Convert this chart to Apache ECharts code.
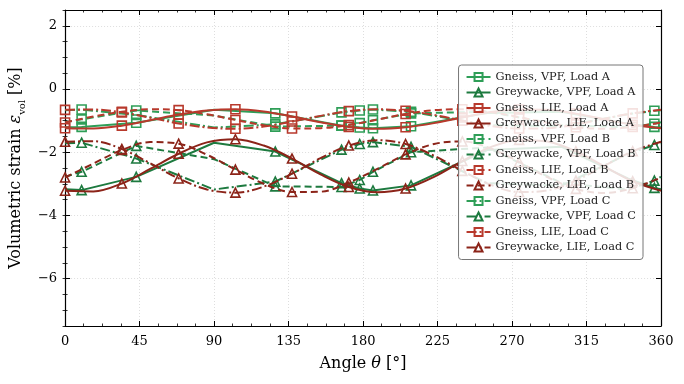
<!DOCTYPE html>
<html><head><meta charset="utf-8">
<script src="https://cdn.jsdelivr.net/npm/echarts@6/dist/echarts.min.js"></script>
<style>html,body{margin:0;padding:0;background:#fff}#c{width:684px;height:384px}</style>
</head><body><div id="c"></div>
<script>
// ---- data ----
const lieAngles = [0, 17.1, 34.3, 51.4, 68.6, 85.7, 102.9, 120, 137.1, 154.3, 171.4, 188.6, 205.7, 222.9, 240, 257.1, 274.3, 291.4, 308.6, 325.7, 342.9, 360];
const gneissLIE_A = [-1.24,-1.25,-1.16,-0.99,-0.81,-0.68,-0.64,-0.71,-0.87,-1.05,-1.20,-1.26,-1.21,-1.08,-0.90,-0.73,-0.65,-0.66,-0.78,-0.96,-1.13,-1.24];
const gneissLIE_B = [-1.06,-0.87,-0.72,-0.64,-0.67,-0.80,-0.98,-1.15,-1.25,-1.24,-1.14,-0.97,-0.79,-0.67,-0.64,-0.73,-0.89,-1.07,-1.21,-1.26,-1.20,-1.06];
const gneissLIE_C = [-0.66,-0.65,-0.74,-0.91,-1.09,-1.22,-1.26,-1.19,-1.03,-0.85,-0.70,-0.64,-0.69,-0.82,-1.00,-1.17,-1.25,-1.24,-1.12,-0.94,-0.77,-0.66];
const greyLIE_A = [-3.22,-3.24,-2.99,-2.53,-2.05,-1.69,-1.59,-1.79,-2.20,-2.70,-3.10,-3.27,-3.15,-2.78,-2.28,-1.84,-1.61,-1.66,-1.97,-2.45,-2.92,-3.22];
const greyLIE_B = [-2.80,-2.36,-1.93,-1.68,-1.73,-2.08,-2.55,-3.00,-3.26,-3.25,-2.96,-2.53,-2.07,-1.74,-1.66,-1.88,-2.31,-2.79,-3.16,-3.29,-3.14,-2.80];
const greyLIE_C = [-1.67,-1.65,-1.90,-2.35,-2.83,-3.18,-3.28,-3.09,-2.68,-2.19,-1.79,-1.62,-1.74,-2.11,-2.59,-3.03,-3.26,-3.21,-2.90,-2.43,-1.97,-1.67];

const vpfAngles = [0, 10, 43, 90, 127, 167, 178, 186, 209, 255, 300, 340, 356, 360];
const vpfMarkedAngles = [10, 43, 127, 167, 178, 186, 209, 356];
const gneissVPF_A = [-1.21,-1.20,-1.07,-0.66,-0.77,-1.16,-1.22,-1.24,-1.18,-0.76,-0.72,-1.10,-1.20,-1.21];
const gneissVPF_B = [-1.05,-0.96,-0.68,-0.84,-1.19,-1.16,-1.08,-0.99,-0.77,-0.72,-1.14,-1.21,-1.10,-1.05];
const gneissVPF_C = [-0.67,-0.65,-0.82,-1.22,-1.12,-0.74,-0.68,-0.65,-0.72,-1.14,-1.18,-0.80,-0.69,-0.67];
const greyVPF_A = [-3.17,-3.20,-2.78,-1.70,-1.98,-2.98,-3.15,-3.21,-3.05,-1.93,-1.83,-2.83,-3.13,-3.17];
const greyVPF_B = [-2.78,-2.62,-1.80,-2.22,-3.08,-3.10,-2.88,-2.62,-2.00,-1.85,-2.98,-3.18,-2.90,-2.78];
const greyVPF_C = [-1.72,-1.70,-2.20,-3.18,-2.93,-1.92,-1.74,-1.68,-1.83,-2.98,-3.06,-2.06,-1.77,-1.72];

const xTicks = [0, 45, 90, 135, 180, 225, 270, 315, 360];
const yTicks = [-6, -4, -2, 0, 2];

// ---- styles ----
const FONT = 'DejaVu Serif';
const C_GN_VPF = '#2e9e57', C_GW_VPF = '#1d7a3f', C_GN_LIE = '#b8392c', C_GW_LIE = '#8c2419';
const DASH = {A: 'solid', B: [7, 4], C: [10, 3, 2, 3]};

function lieSeries(name, ys, color, sym, load) {
  return {
    name, type: 'line', smooth: 0.35, symbol: sym, symbolSize: 9, showAllSymbol: true,
    lineStyle: {color, width: 2, type: DASH[load]},
    itemStyle: {color: 'rgba(255,255,255,0)', borderColor: color, borderWidth: 1.6},
    data: lieAngles.map((a, i) => ({value: [a, ys[i]], symbol: (i % 2 === 0 && i < lieAngles.length - 1) ? sym : 'none'})),
    z: 3
  };
}
function vpfSeries(name, ys, color, sym, load) {
  return {
    name, type: 'line', smooth: false, symbol: sym, symbolSize: 9, showAllSymbol: true,
    lineStyle: {color, width: 2, type: DASH[load]},
    itemStyle: {color: 'rgba(255,255,255,0)', borderColor: color, borderWidth: 1.6},
    data: vpfAngles.map((a, i) => ({value: [a, ys[i]], symbol: vpfMarkedAngles.includes(a) ? sym : 'none'})),
    z: 2
  };
}

const series = [
  vpfSeries('Gneiss, VPF, Load A', gneissVPF_A, C_GN_VPF, 'rect', 'A'),
  vpfSeries('Greywacke, VPF, Load A', greyVPF_A, C_GW_VPF, 'triangle', 'A'),
  lieSeries('Gneiss, LIE, Load A', gneissLIE_A, C_GN_LIE, 'rect', 'A'),
  lieSeries('Greywacke, LIE, Load A', greyLIE_A, C_GW_LIE, 'triangle', 'A'),
  vpfSeries('Gneiss, VPF, Load B', gneissVPF_B, C_GN_VPF, 'rect', 'B'),
  vpfSeries('Greywacke, VPF, Load B', greyVPF_B, C_GW_VPF, 'triangle', 'B'),
  lieSeries('Gneiss, LIE, Load B', gneissLIE_B, C_GN_LIE, 'rect', 'B'),
  lieSeries('Greywacke, LIE, Load B', greyLIE_B, C_GW_LIE, 'triangle', 'B'),
  vpfSeries('Gneiss, VPF, Load C', gneissVPF_C, C_GN_VPF, 'rect', 'C'),
  vpfSeries('Greywacke, VPF, Load C', greyVPF_C, C_GW_VPF, 'triangle', 'C'),
  lieSeries('Gneiss, LIE, Load C', gneissLIE_C, C_GN_LIE, 'rect', 'C'),
  lieSeries('Greywacke, LIE, Load C', greyLIE_C, C_GW_LIE, 'triangle', 'C')
];

const minus = v => (v < 0 ? '\u2212' + (-v) : '' + v);
const axLine = {show: true, onZero: false, lineStyle: {color: '#000', width: 1.2}};
const grid = {color: '#d6d6d6', type: [1, 2], width: 0.8};

const xBase = {type: 'value', min: 0, max: 360, interval: 45, axisLine: axLine,
  axisTick: {show: true, inside: true, length: 5, lineStyle: {color: '#000', width: 1}},
  minorTick: {show: true, splitNumber: 4, length: 2.5, lineStyle: {color: '#000', width: 0.8}}};
const yRange = {type: 'value', min: -7.5, max: 2.5, interval: 0.5};

const option = {
  animation: false,
  backgroundColor: '#fff',
  grid: {left: 62, right: 23, top: 10, bottom: 58, containLabel: false},
  legend: {
    orient: 'vertical', right: 41, top: 65,
    backgroundColor: 'rgba(255,255,255,0.85)', borderColor: '#777', borderWidth: 1, borderRadius: 3,
    padding: [6, 7, 6, 7], itemWidth: 24, itemHeight: 10, itemGap: 3.5,
    textStyle: {fontFamily: FONT, fontSize: 11.3, color: '#222', lineHeight: 12},
    data: series.map(s => s.name)
  },
  xAxis: [
    Object.assign({}, xBase, {position: 'bottom',
      axisLabel: {color: '#000', fontFamily: FONT, fontSize: 13, margin: 9, formatter: minus},
      splitLine: {show: true, lineStyle: grid},
      name: '{t|Angle }{i|θ}{t| [°]}', nameLocation: 'middle', nameGap: 30,
      nameTextStyle: {rich: {t: {fontFamily: FONT, fontSize: 16, color: '#000'}, i: {fontFamily: FONT, fontSize: 16, fontStyle: 'italic', color: '#000'}}}}),
    Object.assign({}, xBase, {position: 'top', axisLabel: {show: false}, splitLine: {show: false}})
  ],
  yAxis: [
    Object.assign({}, yRange, {position: 'left', axisLine: axLine,
      axisTick: {show: true, inside: true, length: 5, customValues: yTicks, lineStyle: {color: '#000', width: 1}},
      axisLabel: {customValues: yTicks, color: '#000', fontFamily: FONT, fontSize: 13, margin: 8, formatter: minus},
      splitLine: {show: true, lineStyle: grid},
      name: '{t|Volumetric strain }{e|ε}{s|vol}{t| [%]}', nameLocation: 'middle', nameGap: 33,
      nameTextStyle: {rich: {
        t: {fontFamily: FONT, fontSize: 16, color: '#000', lineHeight: 22},
        e: {fontFamily: FONT, fontSize: 16, fontStyle: 'italic', color: '#000', lineHeight: 22},
        s: {fontFamily: FONT, fontSize: 10, color: '#000', lineHeight: 22, verticalAlign: 'bottom'}}}}),
    Object.assign({}, yRange, {position: 'left', axisLine: {show: false},
      axisTick: {show: true, inside: true, length: 2.5, lineStyle: {color: '#000', width: 0.8}},
      axisLabel: {show: false}, splitLine: {show: false}}),
    Object.assign({}, yRange, {position: 'right', axisLine: axLine,
      axisTick: {show: true, inside: true, length: 5, customValues: yTicks, lineStyle: {color: '#000', width: 1}},
      axisLabel: {show: false}, splitLine: {show: false}}),
    Object.assign({}, yRange, {position: 'right', axisLine: {show: false},
      axisTick: {show: true, inside: true, length: 2.5, lineStyle: {color: '#000', width: 0.8}},
      axisLabel: {show: false}, splitLine: {show: false}})
  ],
  series: series
};

const chart = echarts.init(document.getElementById('c'), null, {renderer: 'canvas'});
chart.setOption(option);
</script>
</body></html>
